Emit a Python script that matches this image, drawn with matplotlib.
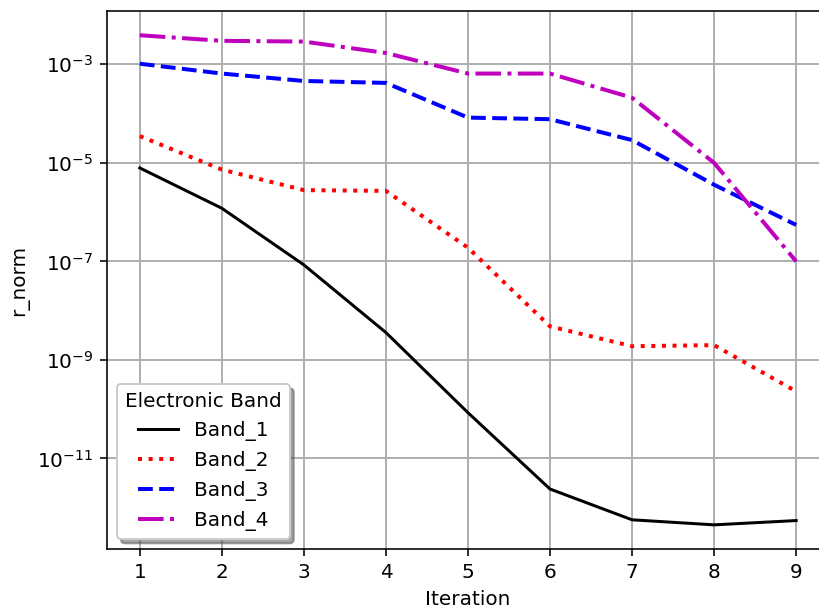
import matplotlib
matplotlib.use("Agg")
import matplotlib.pyplot as plt
import numpy as np

# residual norm per iteration for each band
iterations = [1, 2, 3, 4, 5, 6, 7, 8, 9]
band_1 = [7.9e-6, 1.2e-6, 8.5e-8, 3.6e-9, 8.5e-11, 2.4e-12, 5.7e-13, 4.5e-13, 5.5e-13]
band_2 = [3.5e-5, 7.3e-6, 2.8e-6, 2.7e-6, 1.9e-7, 4.8e-9, 1.9e-9, 2.0e-9, 2.3e-10]
band_3 = [1.03e-3, 6.5e-4, 4.6e-4, 4.2e-4, 8.3e-5, 7.7e-5, 2.9e-5, 3.6e-6, 5.5e-7]
band_4 = [3.9e-3, 3.0e-3, 2.9e-3, 1.7e-3, 6.5e-4, 6.5e-4, 2.1e-4, 1.0e-5, 1.0e-7]
labels = ["Band_1", "Band_2", "Band_3", "Band_4"]
ytick_exponents = [-11, -9, -7, -5, -3]

fig = plt.figure(figsize=(819 / 144, 607 / 144), dpi=144)
ax = fig.add_axes([0.1306, 0.095, 0.8816, 0.8873])

ax.plot(iterations, band_1, color="k", linestyle="-", label=labels[0])
ax.plot(iterations, band_2, color="r", linestyle=":", linewidth=2, label=labels[1])
ax.plot(iterations, band_3, color="b", linestyle="--", linewidth=2, label=labels[2])
ax.plot(iterations, band_4, color="m", linestyle="-.", linewidth=2, label=labels[3])

ax.set_yscale("log")
ax.set_xlim(0.6, 9.4)
lo, hi = np.log10(min(band_1)), np.log10(max(band_4))
pad = 0.05 * (hi - lo)
ax.set_ylim(10 ** (lo - pad), 10 ** (hi + pad))
ax.set_yticks([10.0 ** e for e in ytick_exponents])
ax.yaxis.set_major_formatter(matplotlib.ticker.LogFormatterSciNotation())
ax.yaxis.set_minor_locator(matplotlib.ticker.NullLocator())
ax.set_xticks(iterations)
ax.grid(True, color="#b0b0b0", linewidth=1)
ax.set_xlabel("Iteration")
ax.set_ylabel("r_norm")
ax.legend(title="Electronic Band", loc="lower left", shadow=True)

fig.savefig("out.png", dpi=144)
